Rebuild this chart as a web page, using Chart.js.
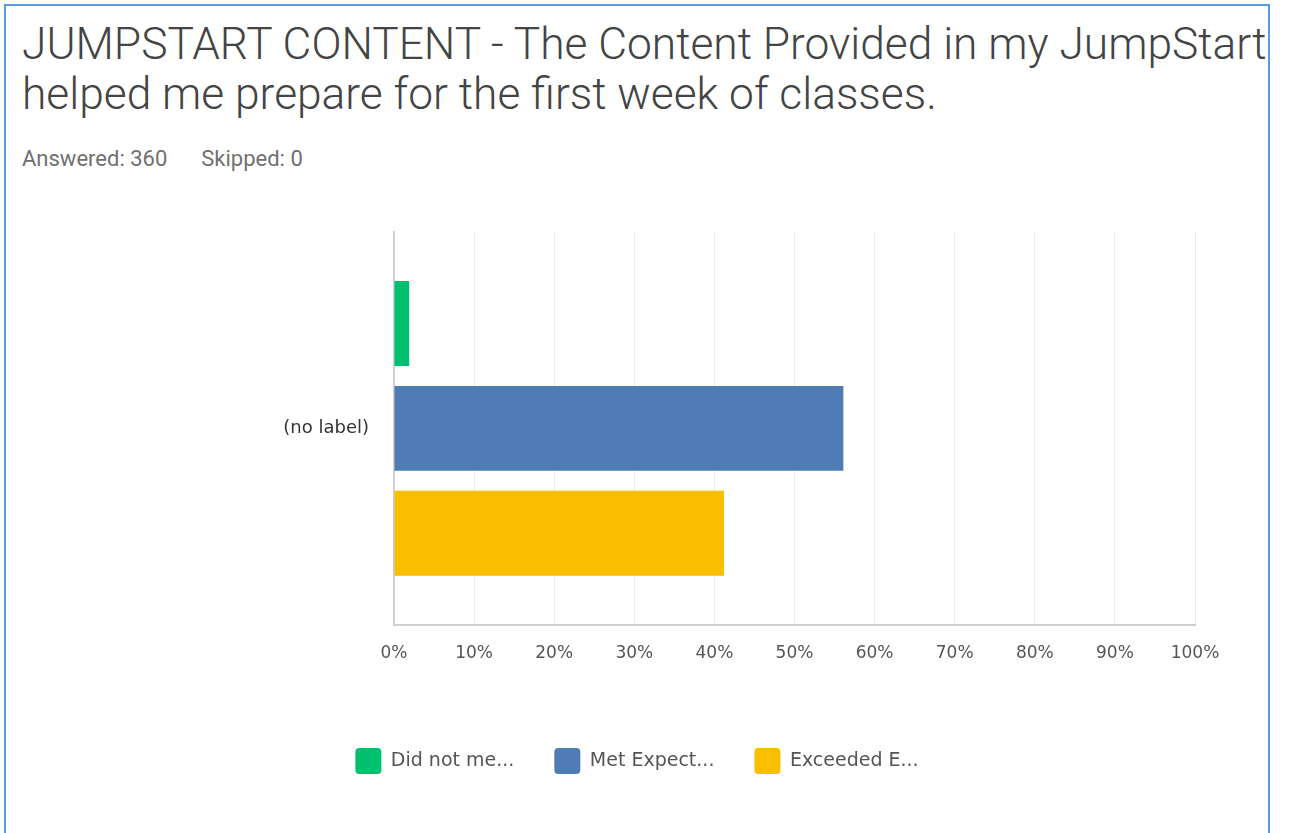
<!DOCTYPE html>
<html>
<head>
<meta charset="utf-8">
<script src="https://cdn.jsdelivr.net/npm/chart.js@4.4.1/dist/chart.umd.min.js"></script>
<style>
  html, body { margin: 0; padding: 0; background: #fff; }
  body { width: 1289px; height: 833px; position: relative; overflow: hidden; font-family: 'Roboto', sans-serif; }
  .frame {
    position: absolute; left: 4px; top: 4px; width: 1266px; height: 840px;
    border: 2px solid #5b9bd5; box-sizing: border-box;
  }
  .title {
    position: absolute; left: 22px; top: 19px;
    font-size: 44.3px; font-weight: 300; line-height: 50px; color: #444;
    white-space: nowrap;
  }
  .meta {
    position: absolute; left: 22px; top: 146px;
    font-size: 22px; color: #707070; white-space: nowrap;
  }
  .meta span + span { margin-left: 34px; }
  .chart-box { position: absolute; left: 6px; top: 196px; width: 1263px; height: 598px; }
</style>
</head>
<body>
<div class="frame"></div>
<div class="title">JUMPSTART CONTENT - The Content Provided in my JumpStart<br>helped me prepare for the first week of classes.</div>
<div class="meta"><span>Answered: 360</span><span>Skipped: 0</span></div>
<div class="chart-box"><canvas id="chartJumpstart"></canvas></div>

<script>
// Donnees (pourcentages)
const categories = ['(no label)'];
const seriesLabels = ['Did not me...', 'Met Expect...', 'Exceeded E...'];
const didNotMeet = [1.9];
const metExpect = [56.1];
const exceeded = [41.2];
const tickLabels = ['0%', '10%', '20%', '30%', '40%', '50%', '60%', '70%', '80%', '90%', '100%'];

const COLORS = {
  green: '#00bf6f',
  blue: '#507cb6',
  yellow: '#f9be00',
  grid: '#ebebeb',
  axis: '#cfcfcf',
  text: '#555',
};

Chart.defaults.font.family = "'DejaVu Sans', sans-serif";
Chart.defaults.color = COLORS.text;

function initChart(canvasId) {
  const canvas = document.getElementById(canvasId);
  if (!canvas) return;

  new Chart(canvas, {
    type: 'bar',
    data: {
      labels: categories,
      datasets: [
        { label: seriesLabels[0], data: didNotMeet, backgroundColor: COLORS.green },
        { label: seriesLabels[1], data: metExpect, backgroundColor: COLORS.blue },
        { label: seriesLabels[2], data: exceeded, backgroundColor: COLORS.yellow },
      ],
    },
    options: {
      responsive: true,
      maintainAspectRatio: false,
      animation: false,
      indexAxis: 'y',
      categoryPercentage: 0.8,
      barPercentage: 0.81,
      // padding gauche ~= droite pour que la legende reste centree sur le cadre
      layout: { padding: { top: 6, right: 74, bottom: 10, left: 73 } },
      plugins: {
        tooltip: { enabled: false },
        legend: {
          position: 'bottom',
          labels: {
            color: COLORS.text,
            font: { size: 19 },
            boxWidth: 26,
            boxHeight: 26,
            useBorderRadius: true,
            borderRadius: 4,
            padding: 40,
          },
        },
      },
      scales: {
        x: {
          min: 0,
          max: 100,
          ticks: {
            stepSize: 10,
            padding: 18,
            color: COLORS.text,
            font: { size: 17 },
            maxRotation: 0,
            callback: (v, i) => tickLabels[i],
          },
          grid: { color: COLORS.grid, drawTicks: false },
          border: { color: COLORS.axis, width: 2 },
          afterFit: s => { s.height = 83; },
        },
        y: {
          ticks: { color: '#333', font: { size: 18 }, padding: 25 },
          grid: { display: false, drawTicks: false },
          border: { color: COLORS.axis, width: 2 },
          afterFit: s => { s.width = 315; },
        },
      },
    },
  });
}

document.addEventListener('DOMContentLoaded', () => {
  initChart('chartJumpstart');
});
</script>
</body>
</html>
